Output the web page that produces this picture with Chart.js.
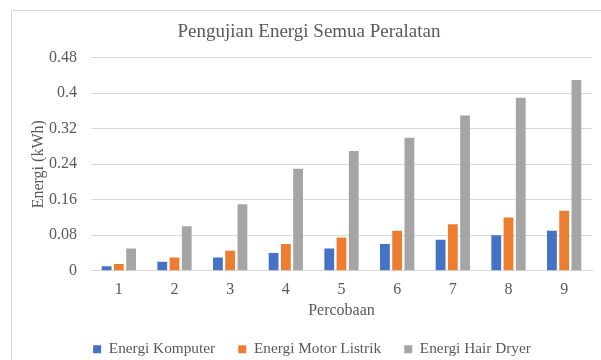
<!DOCTYPE html>
<html>
<head>
<meta charset="utf-8">
<script src="https://cdn.jsdelivr.net/npm/chart.js@4"></script>
<style>
  html, body { margin: 0; padding: 0; background: #fff; }
  #wrap { width: 601px; height: 360px; position: relative; }
</style>
</head>
<body>
<div id="wrap"><canvas id="chart" width="601" height="360"></canvas></div>
<script>
// data
const percobaan = ["1", "2", "3", "4", "5", "6", "7", "8", "9"];
const energiKomputer = [0.01, 0.02, 0.03, 0.04, 0.05, 0.06, 0.07, 0.08, 0.09];
const energiMotor = [0.015, 0.03, 0.045, 0.06, 0.075, 0.09, 0.105, 0.12, 0.135];
const energiHairDryer = [0.05, 0.1, 0.15, 0.23, 0.27, 0.3, 0.35, 0.39, 0.43];
const yTicks = [0, 0.08, 0.16, 0.24, 0.32, 0.4, 0.48];

const serif = "'Liberation Serif', 'Times New Roman', serif";
const textColor = "#595959";
const gridColor = "#d9d9d9";

Chart.defaults.font.family = serif;
Chart.defaults.color = textColor;

// bingkai abu-abu di sekitar chart + geser legenda & judul sedikit ke kanan
const framePlugin = {
  id: "frame",
  afterLayout(chart) {
    chart.legend.left += 10;
    chart.legend.right += 10;
    chart.titleBlock.left += 14;
    chart.titleBlock.right += 0;
  },
  beforeDraw(chart) {
    const c = chart.ctx;
    c.save();
    c.fillStyle = "#fff";
    c.fillRect(0, 0, chart.width, chart.height);
    c.strokeStyle = gridColor;
    c.lineWidth = 1;
    c.strokeRect(11.5, 10.5, chart.width, chart.height);
    c.restore();
  },
};

const defaultLabels = Chart.defaults.plugins.legend.labels.generateLabels;

new Chart(document.getElementById("chart"), {
  type: "bar",
  data: {
    labels: percobaan,
    datasets: [
      { label: "Energi Komputer", data: energiKomputer, backgroundColor: "#4472C4" },
      { label: "Energi Motor Listrik", data: energiMotor, backgroundColor: "#ED7D31" },
      { label: "Energi Hair Dryer", data: energiHairDryer, backgroundColor: "#A5A5A5" },
    ],
  },
  options: {
    responsive: false,
    animation: false,
    categoryPercentage: 0.66,
    barPercentage: 0.8,
    layout: { padding: { left: 12, right: 9, top: 0, bottom: -7 } },
    plugins: {
      title: {
        display: true,
        text: "Pengujian Energi Semua Peralatan",
        color: textColor,
        font: { family: serif, size: 19, weight: "normal" },
        padding: { top: 21, bottom: 14 },
      },
      legend: {
        position: "bottom",
        labels: {
          color: textColor,
          font: { family: serif, size: 15.3, weight: "normal" },
          boxWidth: 8,
          boxHeight: 8,
          padding: 4,
          // jarak antar item legenda
          generateLabels: (chart) =>
            defaultLabels(chart).map((l, i, arr) => ({
              ...l,
              text: i < arr.length - 1 ? l.text + "     " : l.text,
            })),
        },
      },
      tooltip: { enabled: false },
    },
    scales: {
      x: {
        grid: { display: false, drawTicks: false, tickLength: 0 },
        border: { color: gridColor },
        ticks: { color: textColor, font: { family: serif, size: 16, lineHeight: 1 }, padding: 11 },
        title: {
          display: true,
          text: "Percobaan",
          color: textColor,
          font: { family: serif, size: 16, lineHeight: 1 },
          padding: { top: -6, bottom: 19 },
        },
      },
      y: {
        min: 0,
        max: 0.48,
        afterFit: (s) => { s.width = 79; },
        afterBuildTicks: (s) => { s.ticks = yTicks.map((v) => ({ value: v })); },
        grid: { color: gridColor, drawTicks: false },
        border: { display: false },
        ticks: {
          color: textColor,
          font: { family: serif, size: 16 },
          padding: 14,
          callback: (v) => String(v),
        },
        title: {
          display: true,
          text: "Energi (kWh)",
          color: textColor,
          font: { family: serif, size: 16 },
          padding: { top: 17, bottom: 0 },
        },
      },
    },
  },
  plugins: [framePlugin],
});
</script>
</body>
</html>
